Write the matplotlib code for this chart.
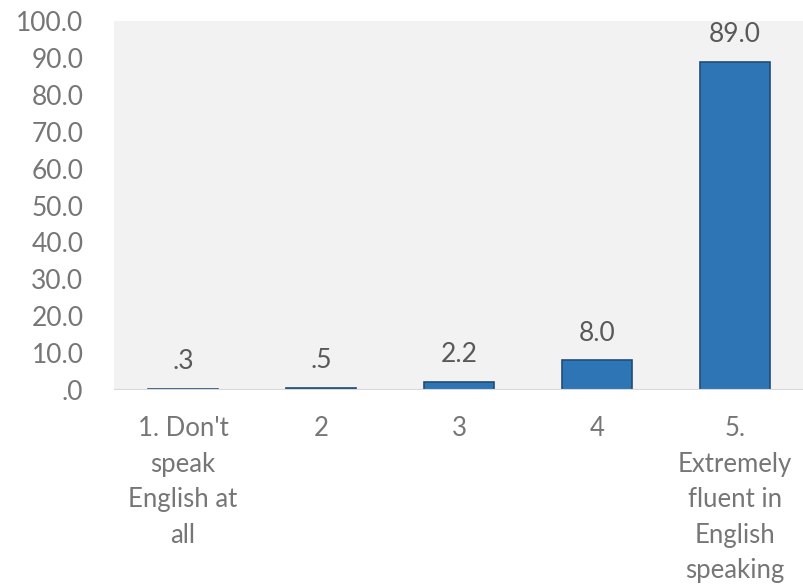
import numpy as np
import matplotlib.pyplot as plt
from matplotlib.ticker import FuncFormatter

categories = ["1. Don't\nspeak\nEnglish at\nall", "2", "3", "4",
              "5.\nExtremely\nfluent in\nEnglish\nspeaking"]
values = [0.3, 0.5, 2.2, 8.0, 89.0]

plt.rcParams['font.family'] = ['Lato', 'DejaVu Sans']

def fmt(v):
    s = '{:.1f}'.format(v)
    if s.startswith('0'):
        s = s[1:]
    return s

fig = plt.figure(figsize=(8.04, 5.86), dpi=100)
ax = fig.add_axes([114/804, 1 - 390/586, 690/804, 369/586])
ax.set_facecolor('#f2f2f2')

x = np.arange(len(values))
bars = ax.bar(x, values, width=0.51, color='#2e75b6', edgecolor='#1f4e79',
              linewidth=1.2, zorder=3)

for xi, v in zip(x, values):
    ax.text(xi, v + 4.0, fmt(v), ha='center', va='bottom', fontsize=19,
            color='#595959')

ax.axhline(0, color='#d9d9d9', lw=1.5, zorder=4)
ax.set_ylim(0, 100)
ax.set_xlim(-0.5, 4.5)
ax.set_yticks(np.arange(0, 101, 10))
ax.yaxis.set_major_formatter(FuncFormatter(lambda v, p: fmt(v)))
ax.set_xticks(x)
ax.set_xticklabels(categories, linespacing=1.52)
ax.tick_params(axis='y', length=0, pad=22, labelsize=19, labelcolor='#767676')
ax.tick_params(axis='x', length=0, pad=19, labelsize=18.5, labelcolor='#767676')
for s in ax.spines.values():
    s.set_visible(False)

fig.savefig('out.png', dpi=100)
